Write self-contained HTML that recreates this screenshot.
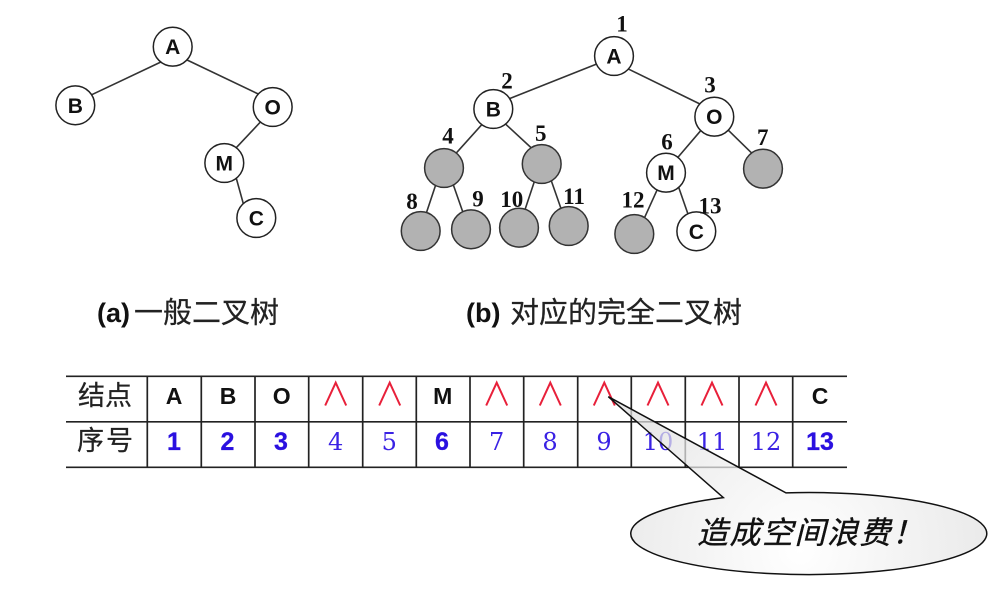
<!DOCTYPE html>
<html lang="zh">
<head>
<meta charset="utf-8">
<title>完全二叉树</title>
<style>
html,body{margin:0;padding:0;background:#fff;width:1008px;height:589px;overflow:hidden}
svg{display:block;filter:blur(.35px)}
.sans{font-family:"Liberation Sans",sans-serif}
.cjk{font-family:"Liberation Sans","Noto Sans CJK SC",sans-serif}
.node{font-family:"Liberation Sans",sans-serif;font-weight:700;font-size:21px;fill:#111;text-anchor:middle}
.num{font-family:"Liberation Serif",serif;font-weight:700;font-size:23px;fill:#111;text-anchor:middle}
.cell{font-family:"Liberation Sans",sans-serif;font-weight:700;font-size:23px;fill:#111;text-anchor:middle}
.bn{font-family:"Liberation Sans",sans-serif;font-weight:700;font-size:25px;fill:#2a10e0;text-anchor:middle;stroke:#2a10e0;stroke-width:.3}
.tn{font-family:"DejaVu Serif",serif;font-size:24px;fill:#3a22e4;text-anchor:middle}
.cap{font-size:29px;fill:#222;stroke:#222;stroke-width:.25}
.capb{font-family:"Liberation Sans",sans-serif;font-weight:700;font-size:27px;fill:#111}
</style>
</head>
<body>
<svg width="1008" height="589" viewBox="0 0 1008 589" xmlns="http://www.w3.org/2000/svg">
  <defs>
    <radialGradient id="g" gradientUnits="userSpaceOnUse" cx="800" cy="550" r="200">
      <stop offset="0" stop-color="#ffffff"/>
      <stop offset="1" stop-color="#e0e0e0"/>
    </radialGradient>
  </defs>
  <rect width="1008" height="589" fill="#fff"/>

  <!-- tree (a) edges -->
  <g transform="translate(40 10) scale(.33333)" stroke="#333" stroke-width="4.800" fill="none">
    <line x1="369" y1="153" x2="149" y2="257"/>
    <line x1="435" y1="147" x2="661" y2="255"/>
    <line x1="666" y1="331" x2="587" y2="415"/>
    <line x1="587" y1="498" x2="613" y2="592"/>
  </g>
  <g fill="#fff" stroke="#222" stroke-width="1.500">
    <circle cx="172.7" cy="46.7" r="19.4"/>
    <circle cx="75.3" cy="105.3" r="19.4"/>
    <circle cx="272.7" cy="107" r="19.4"/>
    <circle cx="224.3" cy="163" r="19.4"/>
    <circle cx="256.3" cy="218" r="19.4"/>
  </g>
  <text class="node" x="172.7" y="54">A</text>
  <text class="node" x="75.3" y="113">B</text>
  <text class="node" x="272.7" y="114.500">O</text>
  <text class="node" x="224.3" y="170.500">M</text>
  <text class="node" x="256.3" y="225.500">C</text>

  <!-- tree (b) edges -->
  <g transform="translate(390 5) scale(.33333)" stroke="#333" stroke-width="4.800" fill="none">
    <line x1="623" y1="176" x2="351" y2="284"/>
    <line x1="711" y1="190" x2="936" y2="300"/>
    <line x1="278" y1="356" x2="197" y2="446"/>
    <line x1="341" y1="352" x2="434" y2="438"/>
    <line x1="933" y1="376" x2="862" y2="459"/>
    <line x1="1006" y1="367" x2="1092" y2="451"/>
    <line x1="139" y1="534" x2="106" y2="633"/>
    <line x1="188" y1="534" x2="222" y2="631"/>
    <line x1="436" y1="521" x2="401" y2="626"/>
    <line x1="481" y1="519" x2="516" y2="619"/>
    <line x1="803" y1="551" x2="760" y2="646"/>
    <line x1="864" y1="541" x2="897" y2="636"/>
  </g>
  <g fill="#fff" stroke="#222" stroke-width="1.500">
    <circle cx="614" cy="56" r="19.4"/>
    <circle cx="493.3" cy="109" r="19.4"/>
    <circle cx="714.3" cy="116.7" r="19.4"/>
    <circle cx="666" cy="172.7" r="19.4"/>
    <circle cx="696.3" cy="231.3" r="19.4"/>
  </g>
  <g fill="#b2b2b2" stroke="#333" stroke-width="1.500">
    <circle cx="444" cy="168" r="19.4"/>
    <circle cx="541.7" cy="164" r="19.4"/>
    <circle cx="763" cy="168.700" r="19.4"/>
    <circle cx="420.7" cy="231" r="19.4"/>
    <circle cx="471" cy="229.3" r="19.4"/>
    <circle cx="519" cy="227.7" r="19.4"/>
    <circle cx="568.7" cy="226" r="19.4"/>
    <circle cx="634.3" cy="234" r="19.4"/>
  </g>
  <text class="node" x="614" y="63.500">A</text>
  <text class="node" x="493.3" y="116.500">B</text>
  <text class="node" x="714.3" y="124.200">O</text>
  <text class="node" x="666" y="180.200">M</text>
  <text class="node" x="696.3" y="238.800">C</text>

  <text class="num" x="622" y="31.500">1</text>
  <text class="num" x="507" y="88.500">2</text>
  <text class="num" x="710" y="92.500">3</text>
  <text class="num" x="448" y="143.500">4</text>
  <text class="num" x="540.7" y="141">5</text>
  <text class="num" x="667" y="149.500">6</text>
  <text class="num" x="762.7" y="145">7</text>
  <text class="num" x="412" y="209">8</text>
  <text class="num" x="478" y="206.500">9</text>
  <text class="num" x="511.7" y="206.800">10</text>
  <text class="num" x="574" y="204">11</text>
  <text class="num" x="633" y="207.500">12</text>
  <text class="num" x="710" y="213.500">13</text>

  <!-- captions -->
  <text class="capb" x="97" y="322">(a)</text>
  <text class="cjk cap" x="134" y="322.500">一般二叉树</text>
  <text class="capb" x="466" y="322">(b)</text>
  <text class="cjk cap" x="510" y="322.500">对应的完全二叉树</text>

  <!-- table -->
  <g stroke="#222" stroke-width="1.700" fill="none">
    <line x1="66" y1="376.300" x2="847" y2="376.300"/>
    <line x1="66" y1="421.800" x2="847" y2="421.800"/>
    <line x1="66" y1="467.300" x2="847" y2="467.300"/>
    <line x1="147.300" y1="376" x2="147.300" y2="467.500"/>
    <line x1="201.300" y1="376" x2="201.300" y2="467.500"/>
    <line x1="255" y1="376" x2="255" y2="467.500"/>
    <line x1="308.700" y1="376" x2="308.700" y2="467.500"/>
    <line x1="362.700" y1="376" x2="362.700" y2="467.500"/>
    <line x1="416.300" y1="376" x2="416.300" y2="467.500"/>
    <line x1="470" y1="376" x2="470" y2="467.500"/>
    <line x1="523.700" y1="376" x2="523.700" y2="467.500"/>
    <line x1="577.700" y1="376" x2="577.700" y2="467.500"/>
    <line x1="631.300" y1="376" x2="631.300" y2="467.500"/>
    <line x1="685.300" y1="376" x2="685.300" y2="467.500"/>
    <line x1="739" y1="376" x2="739" y2="467.500"/>
    <line x1="792.700" y1="376" x2="792.700" y2="467.500"/>
  </g>

  <text class="cjk" x="78" y="405" font-size="27" fill="#222" stroke="#222" stroke-width=".25">结点</text>
  <text class="cjk" x="77" y="450" font-size="27" fill="#222" stroke="#222" stroke-width=".25" textLength="56">序号</text>

  <text class="cell" x="174" y="404">A</text>
  <text class="cell" x="228" y="404">B</text>
  <text class="cell" x="281.700" y="404">O</text>
  <text class="cell" x="442.700" y="404">M</text>
  <text class="cell" x="820" y="404">C</text>

  <g stroke="#e8203a" stroke-width="2" fill="none">
    <polyline points="325.200,405.500 335.700,382.700 346.200,405.500"/>
    <polyline points="379.200,405.500 389.700,382.700 400.200,405.500"/>
    <polyline points="486.200,405.500 496.700,382.700 507.200,405.500"/>
    <polyline points="539.800,405.500 550.300,382.700 560.800,405.500"/>
    <polyline points="593.800,405.500 604.300,382.700 614.800,405.500"/>
    <polyline points="647.500,405.500 658,382.700 668.500,405.500"/>
    <polyline points="701.500,405.500 712,382.700 722.500,405.500"/>
    <polyline points="755.500,405.500 766,382.700 776.500,405.500"/>
  </g>

  <text class="bn" x="174" y="450">1</text>
  <text class="bn" x="227.500" y="450">2</text>
  <text class="bn" x="281" y="450">3</text>
  <text class="tn" x="335.700" y="450">4</text>
  <text class="tn" x="389.300" y="450">5</text>
  <text class="bn" x="442" y="450">6</text>
  <text class="tn" x="496.700" y="450">7</text>
  <text class="tn" x="550" y="450">8</text>
  <text class="tn" x="604" y="450">9</text>
  <text class="tn" x="658" y="450">10</text>
  <text class="tn" x="712" y="450">11</text>
  <text class="tn" x="766" y="450">12</text>
  <text class="bn" x="820" y="450">13</text>

  <!-- callout -->
  <path d="M608.300 396.700 L723.300 497.600 A178 41 0 1 0 786 492.900 Z" fill="url(#g)" fill-opacity=".72" stroke="#111" stroke-width="1.500" stroke-linejoin="miter"/>
  <text class="cjk" x="697" y="543.500" font-size="31" font-style="italic" fill="#111" stroke="#111" stroke-width=".35" letter-spacing="1.5">造成空间浪费！</text>
</svg>
</body>
</html>
